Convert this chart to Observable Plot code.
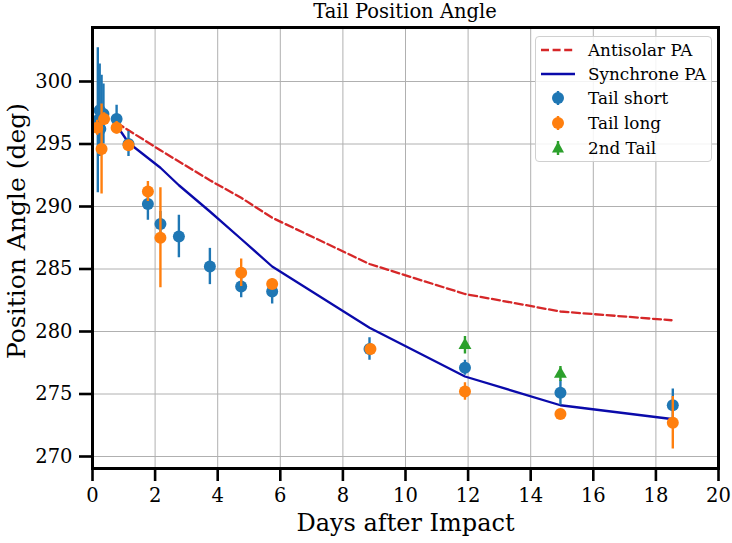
<!DOCTYPE html>
<html>
<head>
<meta charset="utf-8">
<script src="https://cdn.jsdelivr.net/npm/d3@7"></script>
<script src="https://cdn.jsdelivr.net/npm/@observablehq/plot@0.6"></script>
<style>
  body { margin: 0; background: #fff; font-family: "DejaVu Serif", serif; }
  #wrap { position: relative; width: 732px; height: 543px; overflow: hidden; }
  #title { height: 24px; line-height: 24px; padding-left: 92px; width: 626px; text-align: center; font-size: 19.5px; color: #000; font-family: "DejaVu Serif", serif; }
  #legend { position: absolute; left: 535px; top: 36px; width: 177px; height: 126px; box-sizing: border-box;
            background: rgba(255,255,255,0.85); border: 1px solid #d0d0d0; border-radius: 4px; }
  .row { position: absolute; left: 0; height: 22px; display: flex; align-items: center; font-size: 16.8px; white-space: nowrap; }
  .row svg { margin-left: 4px; margin-right: 12px; }
</style>
</head>
<body>
<div id="wrap">
  <div id="title">Tail Position Angle</div>
  <div id="chart"></div>
  <div id="legend"></div>
</div>
<script>
// ---- data ----
const shortDays = [0.17, 0.23, 0.29, 0.35, 0.25, 0.77, 1.15, 1.77, 2.17, 2.76, 3.75, 4.75, 5.74, 8.85, 11.9, 14.95, 18.54];
const shortPA   = [296.9, 297.7, 297.3, 297.4, 296.2, 297.0, 295.0, 290.2, 288.6, 287.6, 285.2, 283.6, 283.2, 278.6, 277.1, 275.1, 274.1];
const shortErr  = [5.8, 3.7, 3.2, 2.4, 1.0, 1.1, 1.0, 1.3, 1.0, 1.7, 1.45, 0.9, 1.0, 0.9, 0.6, 1.0, 1.3];

const longDays = [0.15, 0.29, 0.37, 0.77, 1.15, 1.77, 2.17, 4.75, 5.74, 8.88, 11.9, 14.95, 18.54];
const longPA   = [296.3, 294.6, 297.0, 296.3, 294.9, 291.2, 287.5, 284.7, 283.8, 278.6, 275.2, 273.4, 272.7];
const longErr  = [0.6, 3.6, 0.5, 0.5, 0.4, 0.8, 4.0, 1.1, 0.3, 0.3, 0.7, 0.3, 2.1];

const secondDays = [11.9, 14.95];
const secondPA   = [278.9, 276.6];
const secondErr  = [0.7, 0.6];

const lineDays     = [0.77, 1.15, 2.17, 2.76, 3.75, 4.75, 5.74, 8.85, 11.9, 14.95, 18.5];
const antisolarPA  = [296.7, 296.1, 294.5, 293.6, 292.1, 290.7, 289.1, 285.4, 283.0, 281.6, 280.9];
const synchronePA  = [296.5, 295.1, 293.1, 291.7, 289.6, 287.4, 285.2, 280.3, 276.4, 274.1, 273.0];

const xTicks = [0, 2, 4, 6, 8, 10, 12, 14, 16, 18, 20];
const yTicks = [270, 275, 280, 285, 290, 295, 300];

const seriesNames = ["Antisolar PA", "Synchrone PA", "Tail short", "Tail long", "2nd Tail"];
const colors = {short: "#1f77b4", long: "#ff7f0e", second: "#2ca02c", antisolar: "#d62728", synchrone: "#0a0aaa"};

// ---- build tables ----
const toRows = (days, pa, err) => days.map((d, i) => ({day: d, pa: pa[i], err: err ? err[i] : 0}));
const shortRows = toRows(shortDays, shortPA, shortErr);
const longRows = toRows(longDays, longPA, longErr);
const secondRows = toRows(secondDays, secondPA, secondErr);
const antiRows = toRows(lineDays, antisolarPA);
const syncRows = toRows(lineDays, synchronePA);

const errRule = (rows, color) => Plot.ruleX(rows, {x: "day", y1: d => d.pa - d.err, y2: d => d.pa + d.err, stroke: color, strokeWidth: 2.4});

const chart = Plot.plot({
  width: 732,
  height: 519,
  marginLeft: 92,
  marginRight: 14,
  marginTop: 3,
  marginBottom: 75,
  style: {fontFamily: "DejaVu Serif, serif", background: "#fff", color: "#000"},
  x: {domain: [0, 20]},
  y: {domain: [269.04, 304.32]},
  marks: [
    Plot.gridX(xTicks, {stroke: "#b0b0b0", strokeOpacity: 1, strokeWidth: 1}),
    Plot.gridY(yTicks, {stroke: "#b0b0b0", strokeOpacity: 1, strokeWidth: 1}),
    Plot.line(antiRows, {x: "day", y: "pa", stroke: colors.antisolar, strokeWidth: 2.3, strokeDasharray: "8,3.6"}),
    Plot.line(syncRows, {x: "day", y: "pa", stroke: colors.synchrone, strokeWidth: 2.3}),
    errRule(shortRows, colors.short),
    Plot.dot(shortRows, {x: "day", y: "pa", r: 6, fill: colors.short, stroke: "none"}),
    errRule(longRows, colors.long),
    Plot.dot(longRows, {x: "day", y: "pa", r: 6, fill: colors.long, stroke: "none"}),
    errRule(secondRows, colors.second),
    Plot.dot(secondRows, {x: "day", y: "pa", r: 4.8, symbol: "triangle", fill: colors.second, stroke: "none"}),
    Plot.frame({stroke: "#000", strokeWidth: 3}),
    Plot.axisX(xTicks, {tickSize: 13, tickPadding: 7, fontSize: 19.5, strokeWidth: 2.6, label: null}),
    Plot.axisY(yTicks, {tickSize: 13, tickPadding: 7, fontSize: 19.5, strokeWidth: 2.6, label: null}),
    Plot.text(["Days after Impact"], {frameAnchor: "bottom", dy: 62, fontSize: 24, lineAnchor: "bottom"}),
    Plot.text(["Position Angle (deg)"], {frameAnchor: "left", textAnchor: "middle", dx: -76, dy: -17, rotate: -90, fontSize: 25})
  ]
});
document.getElementById("chart").appendChild(chart);

// ---- legend ----
const legend = document.getElementById("legend");
const rowsTop = [2, 26, 50, 75, 100];
const swatches = [
  `<svg width="36" height="20"><line x1="1" y1="10" x2="35" y2="10" stroke="${colors.antisolar}" stroke-width="2.3" stroke-dasharray="8,3.6"/></svg>`,
  `<svg width="36" height="20"><line x1="1" y1="10" x2="35" y2="10" stroke="${colors.synchrone}" stroke-width="2.3"/></svg>`,
  `<svg width="36" height="20"><line x1="18" y1="3" x2="18" y2="17" stroke="${colors.short}" stroke-width="2.4"/><circle cx="18" cy="10" r="6" fill="${colors.short}"/></svg>`,
  `<svg width="36" height="20"><line x1="18" y1="3" x2="18" y2="17" stroke="${colors.long}" stroke-width="2.4"/><circle cx="18" cy="10" r="6" fill="${colors.long}"/></svg>`,
  `<svg width="36" height="20"><line x1="18" y1="3" x2="18" y2="17" stroke="${colors.second}" stroke-width="2.4"/><path d="M18,3.5 L24,14.5 L12,14.5 Z" fill="${colors.second}"/></svg>`
];
seriesNames.forEach((name, i) => {
  const row = document.createElement("div");
  row.className = "row";
  row.style.top = rowsTop[i] + "px";
  row.innerHTML = swatches[i] + `<span>${name}</span>`;
  legend.appendChild(row);
});
</script>
</body>
</html>
